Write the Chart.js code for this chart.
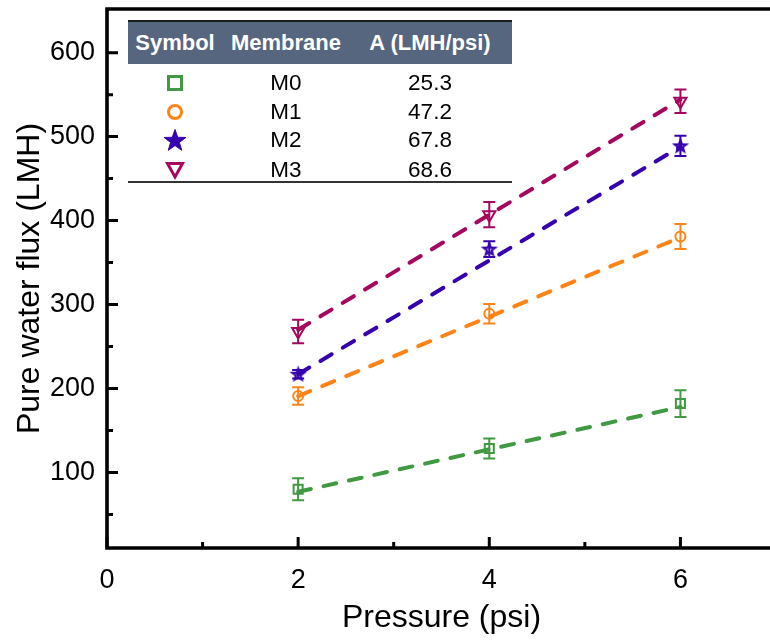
<!DOCTYPE html>
<html>
<head>
<meta charset="utf-8">
<script src="https://cdn.jsdelivr.net/npm/chart.js@4.4.0/dist/chart.umd.min.js"></script>
<style>
html,body{margin:0;padding:0;background:#fff;overflow:hidden;width:770px;height:641px;}
#wrap{position:relative;width:785px;height:641px;overflow:hidden;}
#c{position:absolute;left:0;top:0;width:785px;height:641px;}
#legend{position:absolute;left:128px;top:20px;width:384px;height:164px;font-family:"Liberation Sans",Arial,sans-serif;}
#legend .topline{position:absolute;left:0;top:0;width:384px;height:2px;background:#1a1a1a;}
#legend .head{position:absolute;left:0;top:2px;width:384px;height:42px;background:#56667f;}
#legend .botline{position:absolute;left:0;top:161px;width:384px;height:2px;background:#333;}
#legend .cell{position:absolute;height:30px;line-height:30px;white-space:nowrap;transform:translateX(-50%);font-size:22.5px;color:#000;}
#legend .hcell{font-weight:bold;color:#fff;font-size:22px;}
#legend svg{position:absolute;}
</style>
</head>
<body>
<div id="wrap">
<canvas id="c" width="785" height="641"></canvas>
<div id="legend"></div>
</div>
<script>
// ---------------- data ----------------
const pressure = [2, 4, 6];
const membranes = ['M0', 'M1', 'M2', 'M3'];
const permeance = ['25.3', '47.2', '67.8', '68.6'];
const legendHeader = ['Symbol', 'Membrane', 'A (LMH/psi)'];

const fluxM0 = [80, 128.5, 182];
const fluxM1 = [191, 289, 381];
const fluxM2 = [217, 366, 489];
const fluxM3 = [268, 407, 542];

const errM0 = [13, 12, 16];
const errM1 = [10.5, 11.5, 15];
const errM2 = [5, 9.5, 12];
const errM3 = [14, 15, 14];

const fitX = [2, 6];
const fitM0 = [77, 178];
const fitM1 = [191, 380];
const fitM2 = [217, 488];
const fitM3 = [270, 544];

const xTicks = [0, 2, 4, 6];
const xMinorTicks = [1, 3, 5, 7];
const yTicks = [100, 200, 300, 400, 500, 600];
const yMinorTicks = [50, 150, 250, 350, 450, 550];

// ---------------- styles ----------------
const colors = ['#3f9a42', '#ff8417', '#3500ad', '#a5065e'];
const FONT = '"Liberation Sans", Arial, sans-serif';

function starCanvas(r, color, lw, fill) {
  const c = document.createElement('canvas');
  const s = Math.ceil(2 * r + lw + 4);
  c.width = c.height = s;
  const g = c.getContext('2d');
  g.translate(s / 2, s / 2 + r * 0.08);
  g.beginPath();
  for (let i = 0; i < 10; i++) {
    const rr = i % 2 ? r * 0.42 : r;
    const a = -Math.PI / 2 + i * Math.PI / 5;
    g.lineTo(rr * Math.cos(a), rr * Math.sin(a));
  }
  g.closePath();
  g.lineJoin = 'miter';
  if (fill) { g.fillStyle = color; g.fill(); }
  g.strokeStyle = color; g.lineWidth = lw; g.stroke();
  return c;
}

const fluxes = [fluxM0, fluxM1, fluxM2, fluxM3];
const errs = [errM0, errM1, errM2, errM3];
const fits = [fitM0, fitM1, fitM2, fitM3];
const pointStyles = ['rect', 'circle', starCanvas(6, colors[2], 2.2, false), 'triangle'];
const pointRadii = [6.4, 5, 6, 7];
const pointRot = [0, 0, 0, 180];

const datasets = [];
fits.forEach((f, i) => {
  datasets.push({
    type: 'line',
    label: membranes[i] + ' fit',
    data: fitX.map((x, k) => ({ x: x, y: f[k] })),
    borderColor: colors[i],
    borderWidth: 4,
    borderDash: [13, 13],
    borderCapStyle: 'round',
    pointRadius: 0,
    fill: false,
    order: 10
  });
});
fluxes.forEach((f, i) => {
  datasets.push({
    type: 'scatter',
    label: membranes[i],
    data: pressure.map((x, k) => ({ x: x, y: f[k] })),
    errors: errs[i],
    borderColor: colors[i],
    backgroundColor: 'rgba(255,255,255,0)',
    pointStyle: pointStyles[i],
    pointRadius: pointRadii[i],
    pointRotation: pointRot[i],
    pointBorderWidth: 2,
    pointHoverRadius: pointRadii[i],
    order: 1
  });
});

const errorBarPlugin = {
  id: 'errorBars',
  afterDatasetsDraw(chart) {
    const ctx = chart.ctx, xs = chart.scales.x, ys = chart.scales.y;
    ctx.save();
    chart.data.datasets.forEach(ds => {
      if (!ds.errors) return;
      ctx.strokeStyle = ds.borderColor;
      ctx.lineWidth = 2;
      ds.data.forEach((p, k) => {
        const e = ds.errors[k];
        const px = xs.getPixelForValue(p.x);
        const yt = ys.getPixelForValue(p.y + e);
        const yb = ys.getPixelForValue(p.y - e);
        ctx.beginPath();
        ctx.moveTo(px, yt); ctx.lineTo(px, yb);
        ctx.moveTo(px - 6, yt); ctx.lineTo(px + 6, yt);
        ctx.moveTo(px - 6, yb); ctx.lineTo(px + 6, yb);
        ctx.stroke();
      });
    });
    ctx.restore();
  }
};

const framePlugin = {
  id: 'frame',
  afterDraw(chart) {
    const ctx = chart.ctx, a = chart.chartArea, xs = chart.scales.x, ys = chart.scales.y;
    ctx.save();
    ctx.strokeStyle = '#000';
    ctx.lineCap = 'butt';
    ctx.lineWidth = 3;
    ctx.beginPath();
    yTicks.forEach(v => { const y = ys.getPixelForValue(v); ctx.moveTo(a.left, y); ctx.lineTo(a.left + 11, y); });
    yMinorTicks.forEach(v => { const y = ys.getPixelForValue(v); ctx.moveTo(a.left, y); ctx.lineTo(a.left + 6, y); });
    xTicks.forEach(v => { const x = xs.getPixelForValue(v); ctx.moveTo(x, a.bottom); ctx.lineTo(x, a.bottom - 11); });
    xMinorTicks.forEach(v => { const x = xs.getPixelForValue(v); ctx.moveTo(x, a.bottom); ctx.lineTo(x, a.bottom - 6); });
    ctx.stroke();
    ctx.lineWidth = 3.6;
    ctx.lineCap = 'square';
    ctx.beginPath();
    ctx.moveTo(a.right, a.top); ctx.lineTo(a.left, a.top); ctx.lineTo(a.left, a.bottom); ctx.lineTo(a.right, a.bottom);
    ctx.stroke();
    ctx.restore();
  }
};

Chart.defaults.font.family = FONT;
Chart.defaults.color = '#000';

new Chart(document.getElementById('c'), {
  type: 'scatter',
  data: { datasets: datasets },
  plugins: [errorBarPlugin, framePlugin],
  options: {
    responsive: false,
    animation: false,
    events: [],
    layout: { padding: { left: 0, right: 1.4, top: 7, bottom: 0 } },
    plugins: { legend: { display: false }, tooltip: { enabled: false } },
    scales: {
      x: {
        type: 'linear',
        min: 0, max: 7,
        afterBuildTicks: s => { s.ticks = xTicks.map(v => ({ value: v })); },
        afterFit: s => { s.height = 93; s.paddingLeft = 0; s.paddingRight = 0; },
        grid: { display: false, drawTicks: false },
        border: { display: false },
        ticks: { padding: 16, font: { size: 27 }, color: '#000', maxRotation: 0 },
        title: { display: true, text: 'Pressure (psi)', font: { size: 32 }, color: '#000', padding: { top: 0, bottom: 4 } }
      },
      y: {
        type: 'linear',
        min: 10, max: 652,
        afterBuildTicks: s => { s.ticks = yTicks.map(v => ({ value: v })); },
        afterFit: s => { s.width = 107; s.paddingTop = 0; s.paddingBottom = 0; },
        grid: { display: false, drawTicks: false },
        border: { display: false },
        ticks: { padding: 12, font: { size: 27 }, color: '#000' },
        title: { display: true, text: 'Pure water flux (LMH)', font: { size: 32 }, color: '#000', padding: { top: 11, bottom: 0 } }
      }
    }
  }
});

// ---------------- legend table ----------------
(function buildLegend() {
  const L = document.getElementById('legend');
  L.innerHTML = '<div class="topline"></div><div class="head"></div><div class="botline"></div>';
  const colX = [47, 158, 302];
  const headY = 23;
  const rowY = [62.7, 91.7, 120, 150];
  legendHeader.forEach((t, j) => {
    const d = document.createElement('div');
    d.className = 'cell hcell';
    d.style.left = colX[j] + 'px';
    d.style.top = (headY - 15) + 'px';
    d.textContent = t;
    L.appendChild(d);
  });
  const NS = 'http://www.w3.org/2000/svg';
  membranes.forEach((m, i) => {
    [m, permeance[i]].forEach((t, j) => {
      const d = document.createElement('div');
      d.className = 'cell';
      d.style.left = colX[j + 1] + 'px';
      d.style.top = (rowY[i] - 15) + 'px';
      d.textContent = t;
      L.appendChild(d);
    });
    const svg = document.createElementNS(NS, 'svg');
    svg.setAttribute('width', 28); svg.setAttribute('height', 28);
    svg.style.left = (colX[0] - 14) + 'px';
    svg.style.top = (rowY[i] - 14) + 'px';
    let el;
    if (i === 0) {
      el = document.createElementNS(NS, 'rect');
      el.setAttribute('x', 7.5); el.setAttribute('y', 7.5); el.setAttribute('width', 13); el.setAttribute('height', 13);
      el.setAttribute('fill', 'none'); el.setAttribute('stroke', colors[0]); el.setAttribute('stroke-width', 3);
    } else if (i === 1) {
      el = document.createElementNS(NS, 'circle');
      el.setAttribute('cx', 14); el.setAttribute('cy', 14); el.setAttribute('r', 6.5);
      el.setAttribute('fill', 'none'); el.setAttribute('stroke', colors[1]); el.setAttribute('stroke-width', 3);
    } else if (i === 2) {
      el = document.createElementNS(NS, 'polygon');
      const pts = [];
      for (let k = 0; k < 10; k++) {
        const rr = k % 2 ? 4.6 : 11.5;
        const ang = -Math.PI / 2 + k * Math.PI / 5;
        pts.push((14 + rr * Math.cos(ang)).toFixed(2) + ',' + (15 + rr * Math.sin(ang)).toFixed(2));
      }
      el.setAttribute('points', pts.join(' '));
      el.setAttribute('fill', colors[2]); el.setAttribute('stroke', colors[2]); el.setAttribute('stroke-width', 1);
    } else {
      el = document.createElementNS(NS, 'polygon');
      el.setAttribute('points', '6.5,7.5 21.5,7.5 14,21');
      el.setAttribute('fill', 'none'); el.setAttribute('stroke', colors[3]); el.setAttribute('stroke-width', 3);
      el.setAttribute('stroke-linejoin', 'miter');
    }
    svg.appendChild(el);
    L.appendChild(svg);
  });
})();
</script>
</body>
</html>
